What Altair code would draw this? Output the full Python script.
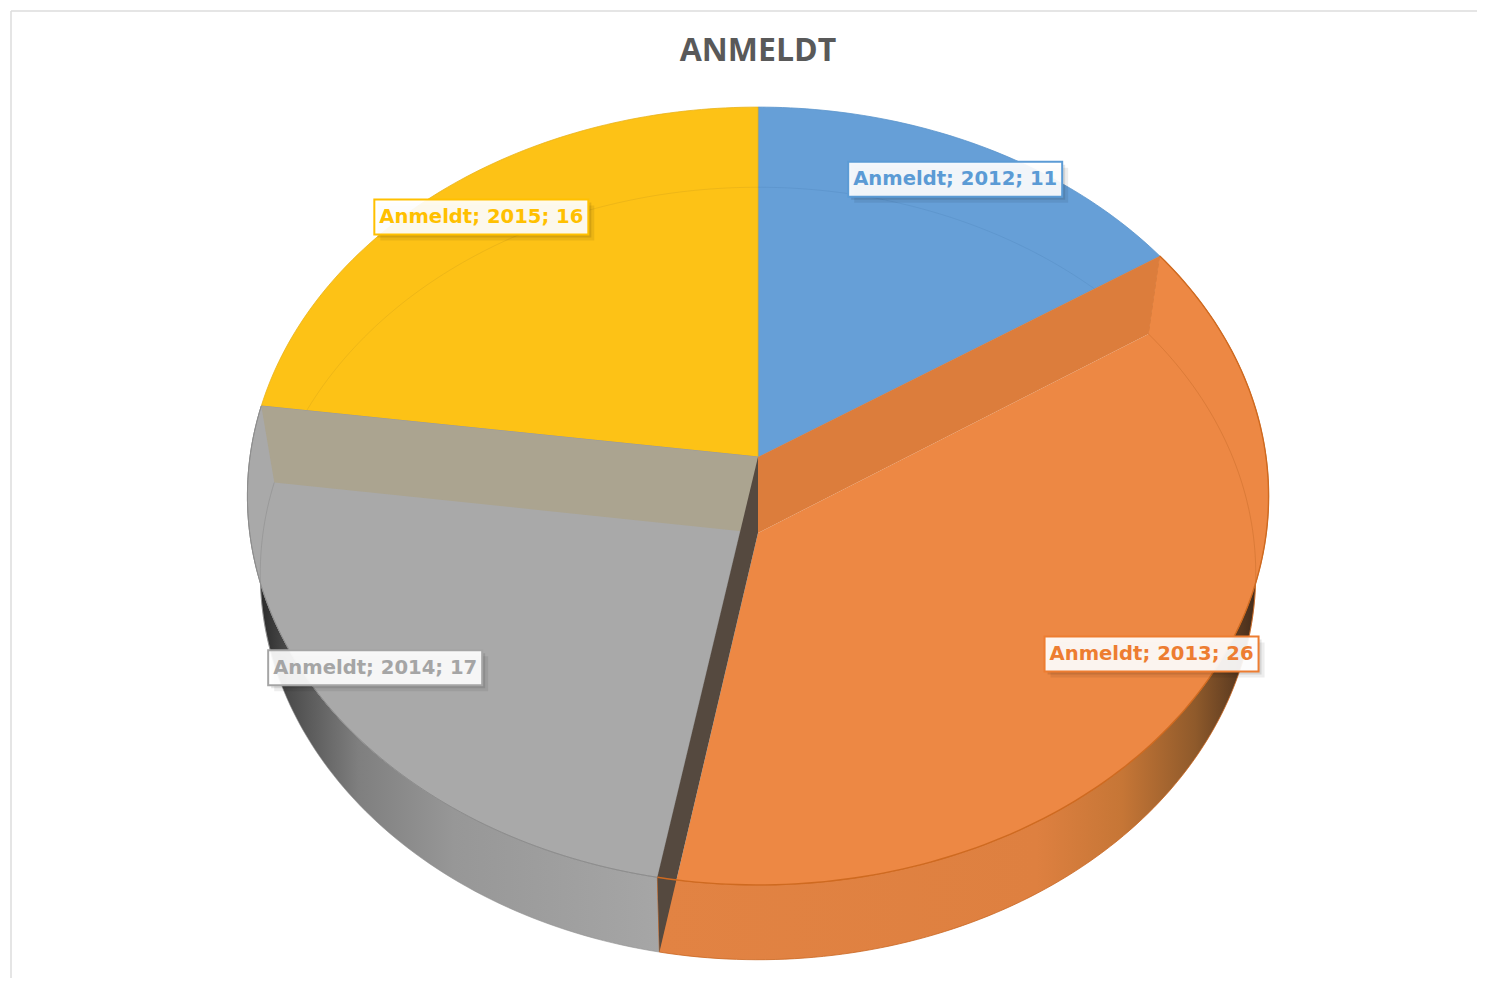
import math
import altair as alt
import pandas as pd

# ---- chart values -------------------------------------------------------
title = "ANMELDT"
series_name = "Anmeldt"
years = ["2012", "2013", "2014", "2015"]
values = [11, 26, 17, 16]

# ---- view model: the tilted discs of the 3-D pie ------------------------
TOP = dict(cx=758, cy=457, a=508, b=385, p=0.1003)
BASE = dict(cx=758, cy=533, a=495, b=382, p=0.1048)
LABEL_R = 0.883
BOX_W, BOX_H = 214, 35

total = sum(values)
edges = [0.0]
for v in values:
    edges.append(edges[-1] + 360.0 * v / total)


def pt(disc, deg, r=1.0):
    t = math.radians(deg)
    u, v = r * math.sin(t), r * math.cos(t)
    k = 1 + disc["p"] * v
    return disc["cx"] + disc["a"] * u / k, disc["cy"] - disc["b"] * v / k


def arc(disc, d0, d1):
    n = max(2, int(abs(d1 - d0) / 1.0))
    return [pt(disc, d0 + (d1 - d0) * i / n) for i in range(n + 1)]


def apex(disc):
    return (disc["cx"], disc["cy"])


T1, T2, T3 = edges[1], edges[2], edges[3]

polys = []


def poly(points, fill, stroke=None, sw=1.0, so=1.0, closed=True):
    polys.append(dict(points=list(points), fill=fill, stroke=stroke, sw=sw, so=so, closed=closed))


grey_wall = alt.Gradient(
    gradient="linear", x1=0, x2=1, y1=0, y2=0,
    stops=[
        alt.GradientStop(color="#1c1c1c", offset=0),
        alt.GradientStop(color="#4c4c4c", offset=0.1),
        alt.GradientStop(color="#7f7f7f", offset=0.27),
        alt.GradientStop(color="#979797", offset=0.5),
        alt.GradientStop(color="#a6a6a6", offset=1),
    ],
)
orange_wall = alt.Gradient(
    gradient="linear", x1=0, x2=1, y1=0, y2=0,
    stops=[
        alt.GradientStop(color="#e28343", offset=0),
        alt.GradientStop(color="#de8040", offset=0.62),
        alt.GradientStop(color="#c67636", offset=0.76),
        alt.GradientStop(color="#8f5a2b", offset=0.88),
        alt.GradientStop(color="#54361f", offset=0.96),
        alt.GradientStop(color="#2e2018", offset=1),
    ],
)

# blue and yellow top faces with the faint base rim seen through them
poly([apex(TOP)] + arc(TOP, 0, T1), "#669fd7", "#5b94cb", 0.8)
poly([apex(TOP)] + arc(TOP, T3, 360), "#fdc216", "#e8b21a", 0.8)
poly(arc(BASE, 0, T1), None, "#4f87bd", 1, 0.35, False)
poly(arc(BASE, T3, 360), None, "#d6a41a", 1, 0.4, False)
# outer walls
poly(arc(TOP, T2, T3) + arc(BASE, T3, T2), grey_wall, "#8f8f8f", 0.6)
poly(arc(TOP, T1, T2) + arc(BASE, T2, T1), orange_wall, "#c9651e", 0.8)
# grey top face, then the inner wall seen through yellow
poly([apex(TOP)] + arc(TOP, T2, T3), "#a9a9a9", "#9a9a9a", 1)
poly([pt(TOP, T3), apex(TOP), apex(BASE), pt(BASE, T3)], "#aba490", None)
# orange top face and its inner wall
poly([apex(BASE), pt(BASE, T1)] + arc(TOP, T1, T2) + [pt(BASE, T2)], "#ed8844", None)
poly([apex(TOP), pt(TOP, T1), pt(BASE, T1), apex(BASE)], "#dc7d3c", None)
# cut face between grey and orange
poly([apex(TOP), apex(BASE), pt(BASE, T2), pt(TOP, T2)], "#55493f", None)
# front rim of top disc
poly(arc(TOP, T1, T2), None, "#cf6a20", 1.4, 1, False)
poly(arc(TOP, T2, T3), None, "#8a8a8a", 1.0, 0.8, False)
# faint base rim seen through the faces
poly(arc(BASE, T1, T1 + 50), None, "#c96d2c", 1, 0.5, False)
poly(arc(BASE, T3 - 30, T3), None, "#8f8f8f", 1, 0.6, False)

rows = []
for k, p in enumerate(polys):
    pts = p["points"]
    if p["closed"]:
        pts = pts + [pts[0]]
    for i, (x, y) in enumerate(pts):
        rows.append(dict(shape=k, i=i, x=x, y=y))
table = pd.DataFrame(rows)

X = alt.Scale(domain=[8, 1477], range=[0, 1469], nice=False, zero=False)
Y = alt.Scale(domain=[978, 8], range=[970, 0], nice=False, zero=False)
xenc = alt.X("x:Q", scale=X, axis=None)
yenc = alt.Y("y:Q", scale=Y, axis=None)

layers = []
for k, p in enumerate(polys):
    kw = {}
    if p["fill"] is not None:
        kw["fill"] = p["fill"]
    if p["stroke"] is not None:
        kw["stroke"] = p["stroke"]
        kw["strokeWidth"] = p["sw"]
        kw["strokeOpacity"] = p["so"]
    else:
        kw["strokeWidth"] = 0
    layers.append(
        alt.Chart(table[table["shape"] == k])
        .mark_line(strokeJoin="round", **kw)
        .encode(x=xenc, y=yenc, order=alt.Order("i:Q"))
    )

# ---- data labels --------------------------------------------------------
colors = ["#5b9bd5", "#ed7d31", "#a5a5a5", "#ffc000"]
lab = []
for j, (yr, v) in enumerate(zip(years, values)):
    mid = (edges[j] + edges[j + 1]) / 2
    x, y = pt(TOP, mid, LABEL_R)
    lab.append(dict(text=f"{series_name}; {yr}; {v}", x=x, y=y, x0=x - BOX_W / 2, x1=x + BOX_W / 2,
                    y0=y - BOX_H / 2, y1=y + BOX_H / 2, c=colors[j]))
labels = pd.DataFrame(lab)


def shadow(off, op):
    d = labels.assign(sx0=labels.x0 + off, sx1=labels.x1 + off, sy0=labels.y0 + off, sy1=labels.y1 + off)
    return alt.Chart(d).mark_rect(color="#000000", opacity=op).encode(
        x=alt.X("sx0:Q", scale=X, axis=None), x2="sx1:Q",
        y=alt.Y("sy0:Q", scale=Y, axis=None), y2="sy1:Q",
    )


box = alt.Chart(labels).mark_rect(fillOpacity=0.92, fill="#ffffff", strokeWidth=2).encode(
    x=alt.X("x0:Q", scale=X, axis=None), x2="x1:Q",
    y=alt.Y("y0:Q", scale=Y, axis=None), y2="y1:Q",
    stroke=alt.Color("c:N", scale=None),
)
text = alt.Chart(labels).mark_text(
    font="DejaVu Sans", fontWeight="bold", fontSize=19.6, baseline="middle", align="center",
).encode(
    x=alt.X("x:Q", scale=X, axis=None), y=alt.Y("y:Q", scale=Y, axis=None),
    text="text:N", color=alt.Color("c:N", scale=None),
)

# ---- title and frame ----------------------------------------------------
title_df = pd.DataFrame([dict(text=title, x=758, y=51)])
title_mark = alt.Chart(title_df).mark_text(
    font="Open Sans", fontWeight="bold", fontSize=32, color="#595959", baseline="middle", align="center",
).encode(x=alt.X("x:Q", scale=X, axis=None), y=alt.Y("y:Q", scale=Y, axis=None), text="text:N")

frame_top = alt.Chart(pd.DataFrame([{"a": 0}])).mark_rule(color="#dcdcdc", strokeWidth=1.5).encode(
    x=alt.value(3), x2=alt.value(1469), y=alt.value(3))
frame_left = alt.Chart(pd.DataFrame([{"a": 0}])).mark_rule(color="#dcdcdc", strokeWidth=1.5).encode(
    x=alt.value(3), y=alt.value(3), y2=alt.value(970))

chart = alt.layer(frame_top, frame_left, *layers, shadow(6, 0.07), shadow(3, 0.1), box, text, title_mark).properties(
    width=1469, height=970, padding=0, autosize=alt.AutoSizeParams(type="none"), background="#ffffff",
).configure_view(stroke=None)

chart.save("out.html", embed_options={"renderer": "svg", "actions": False})
